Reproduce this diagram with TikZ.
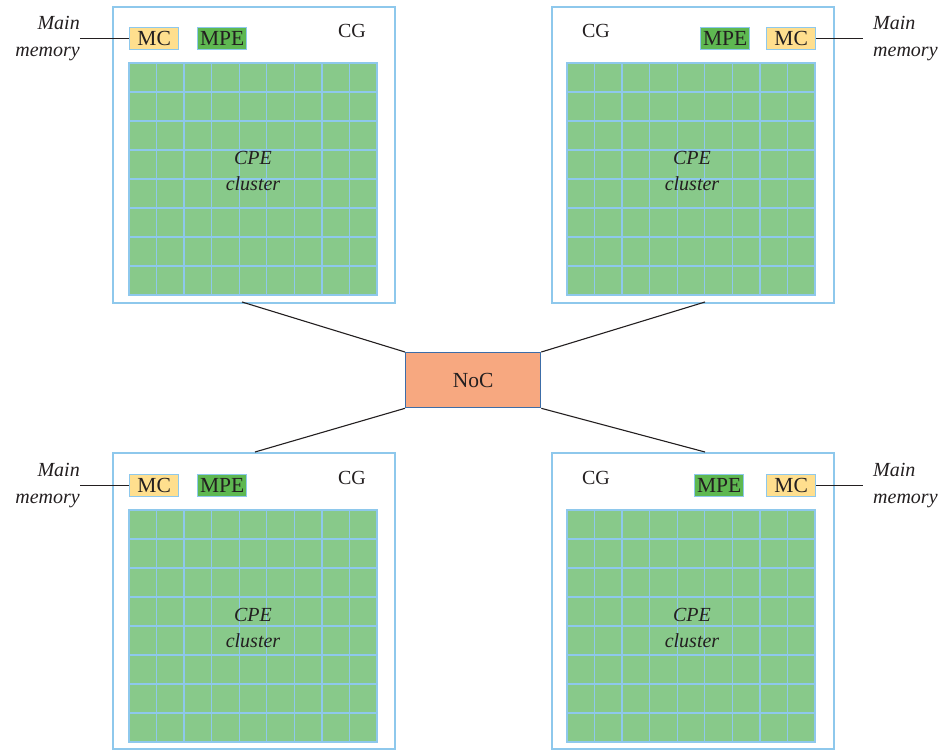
\documentclass[tikz,border=0pt]{standalone}
\usepackage{fontspec}
\setmainfont{Liberation Serif}
\usetikzlibrary{calc}
\definecolor{cgblue}{HTML}{8EC8EC}
\definecolor{cpegreen}{HTML}{88C98A}
\definecolor{mcyellow}{HTML}{FFDF8E}
\definecolor{mpegreen}{HTML}{5EB851}
\definecolor{nocorange}{HTML}{F7A880}
\definecolor{nocblue}{HTML}{3C6DA8}
\definecolor{txt}{HTML}{231F20}
\tikzset{
  cgbox/.style={draw=cgblue, line width=1.6pt, minimum width=282pt, minimum height=296pt, inner sep=0pt, anchor=north west},
  gridnode/.style={fill=cpegreen, draw=none, minimum width=248pt, minimum height=232pt, inner sep=0pt, outer sep=0pt, anchor=north west},
  gridline/.style={draw=cgblue, line width=1.3pt},
  mcbox/.style={draw=cgblue, line width=1.3pt, fill=mcyellow, minimum width=49pt, minimum height=22pt, inner sep=0pt, anchor=north west, font=\fontsize{21.5}{24}\selectfont, text=txt},
  mpebox/.style={mcbox, fill=mpegreen},
  cglabel/.style={font=\fontsize{20}{24}\selectfont, text=txt, inner sep=0pt},
  cpetext/.style={font=\fontsize{20}{26}\selectfont\itshape, text=txt, align=center, inner sep=0pt},
  memtext/.style={font=\fontsize{20}{27}\selectfont\itshape, text=txt, inner sep=0pt},
  conn/.style={draw=txt, line width=1.1pt},
  nocbox/.style={draw=nocblue, line width=1.3pt, fill=nocorange, minimum width=135pt, minimum height=55pt, inner sep=0pt, anchor=north west, font=\fontsize{21.5}{24}\selectfont, text=txt}
}
\newcommand\cpegrid[3]{%
  \node[gridnode] (#1) at (#2,#3) {};
  \foreach \i in {1,...,8}
    \draw[gridline] ($(#1.north west)!\i/9!(#1.north east)$) -- ($(#1.south west)!\i/9!(#1.south east)$);
  \foreach \j in {1,...,7}
    \draw[gridline] ($(#1.north west)!\j/8!(#1.south west)$) -- ($(#1.north east)!\j/8!(#1.south east)$);
  \draw[gridline] (#1.north west) rectangle (#1.south east);
}
\begin{document}
\begin{tikzpicture}[x=1pt,y=-1pt]
\useasboundingbox[fill=white] (0,0) rectangle (945,750);

% ---------- top-left CG ----------
\node[cgbox] (tl) at (112,6) {};
\cpegrid{tlg}{129}{63}
\node[cpetext] (tlcpe) at (253,171) {CPE\\cluster};
\node[mcbox] (tlmc) at (129,27) {MC};
\node[mpebox] (tlmpe) at (197,27) {MPE};
\node[cglabel] (tlcg) at (352,31) {CG};
\node[memtext, align=right, anchor=east] (tlmm) at (80,38.5) {Main\\memory};
\draw[conn] (tlmc.west) -- (tlmc.west -| tlmm.east);

% ---------- top-right CG ----------
\node[cgbox] (tr) at (551,6) {};
\cpegrid{trg}{567}{63}
\node[cpetext] (trcpe) at (692,171) {CPE\\cluster};
\node[mpebox] (trmpe) at (700,27) {MPE};
\node[mcbox] (trmc) at (766,27) {MC};
\node[cglabel] (trcg) at (596,31) {CG};
\node[memtext, align=left, anchor=west] (trmm) at (873,38.5) {Main\\memory};
\coordinate (trmmend) at (863,38);
\draw[conn] (trmc.east) -- (trmc.east -| trmmend);

% ---------- bottom-left CG ----------
\node[cgbox] (bl) at (112,452) {};
\cpegrid{blg}{129}{510}
\node[cpetext] (blcpe) at (253,628) {CPE\\cluster};
\node[mcbox] (blmc) at (129,474) {MC};
\node[mpebox] (blmpe) at (197,474) {MPE};
\node[cglabel] (blcg) at (352,478) {CG};
\node[memtext, align=right, anchor=east] (blmm) at (80,485.5) {Main\\memory};
\draw[conn] (blmc.west) -- (blmc.west -| blmm.east);

% ---------- bottom-right CG ----------
\node[cgbox] (br) at (551,452) {};
\cpegrid{brg}{567}{510}
\node[cpetext] (brcpe) at (692,628) {CPE\\cluster};
\node[mpebox] (brmpe) at (694,474) {MPE};
\node[mcbox] (brmc) at (766,474) {MC};
\node[cglabel] (brcg) at (596,478) {CG};
\node[memtext, align=left, anchor=west] (brmm) at (873,485.5) {Main\\memory};
\coordinate (brmmend) at (863,485);
\draw[conn] (brmc.east) -- (brmc.east -| brmmend);

% ---------- NoC ----------
\node[nocbox] (noc) at (405,352) {NoC};
\coordinate (tlc) at (242,302);
\coordinate (trc) at (705,302);
\coordinate (blc) at (255,452);
\coordinate (brc) at (705,452);
\draw[conn] (tlc) -- (noc.north west);
\draw[conn] (trc) -- (noc.north east);
\draw[conn] (blc) -- (noc.south west);
\draw[conn] (brc) -- (noc.south east);
\end{tikzpicture}
\end{document}
